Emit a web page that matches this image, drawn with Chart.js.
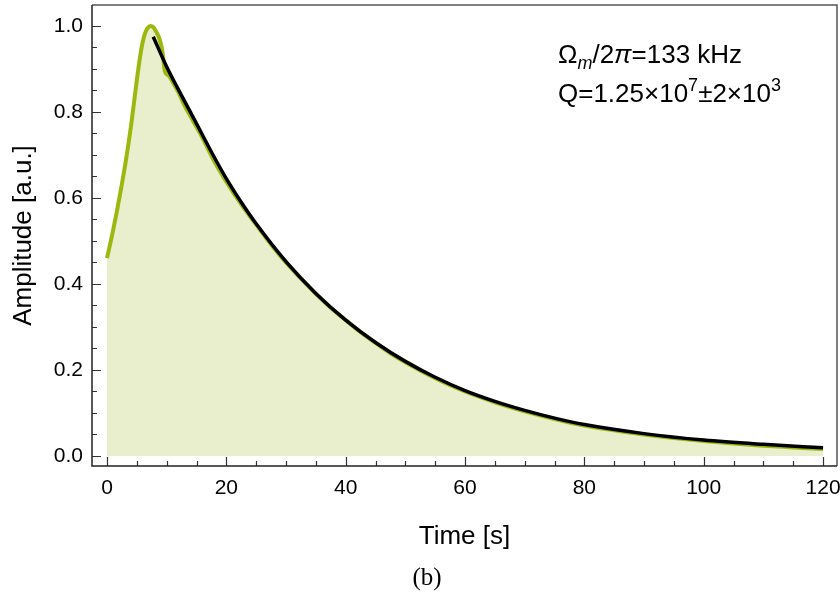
<!DOCTYPE html>
<html>
<head>
<meta charset="utf-8">
<script src="https://cdn.jsdelivr.net/npm/chart.js@4.4.1/dist/chart.umd.min.js"></script>
<style>
  html, body { margin: 0; padding: 0; background: #fff; }
  #wrap { width: 840px; height: 592px; }
</style>
</head>
<body>
<div id="wrap"><canvas id="ringdown" width="840" height="592"></canvas></div>
<script>
// ======================================
// RINGDOWN DATA
// ======================================
//
// Measured amplitude (normalised) vs time after the drive is switched
// off, plus the exponential fit drawn over the decay.

const measuredTime = [
  0, 0.8, 1.6, 2.4, 3.2, 4.0, 4.6, 5.2, 5.8, 6.3, 6.8, 7.3, 7.8, 8.3, 8.8,
  9.3, 9.7, 10.3, 11, 12, 13, 14, 15, 16, 18, 20, 22.5, 25, 27.5, 30, 32.5,
  35, 37.5, 40, 42.5, 45, 47.5, 50, 55, 60, 65, 70, 75, 80, 85, 90, 95, 100,
  105, 110, 115, 120,
];
const measuredAmp = [
  0.46, 0.51, 0.565, 0.625, 0.69, 0.765, 0.83, 0.895, 0.95, 0.98, 0.995,
  1.0, 0.997, 0.985, 0.97, 0.94, 0.895, 0.885, 0.87, 0.845, 0.815, 0.79,
  0.765, 0.74, 0.685, 0.638, 0.585, 0.538, 0.492, 0.45, 0.413, 0.377, 0.345,
  0.316, 0.288, 0.263, 0.239, 0.218, 0.181, 0.15, 0.125, 0.104, 0.086,
  0.071, 0.06, 0.05, 0.042, 0.035, 0.029, 0.024, 0.02, 0.016,
];

const fitTime = [
  7.75, 10, 12.5, 15, 17.5, 20, 22.5, 25, 30, 35, 40, 45, 50, 55, 60, 65,
  70, 75, 80, 90, 100, 110, 120,
];
const fitAmp = [
  0.975, 0.905, 0.838, 0.773, 0.707, 0.645, 0.59, 0.54, 0.452, 0.378, 0.316,
  0.264, 0.22, 0.183, 0.152, 0.127, 0.106, 0.088, 0.073, 0.052, 0.037,
  0.027, 0.019,
];

// axis ticks
const xTickValues = [0, 20, 40, 60, 80, 100, 120];
const xTickLabels = ["0", "20", "40", "60", "80", "100", "120"];
const xMinorTicks = [5, 10, 15, 25, 30, 35, 45, 50, 55, 65, 70, 75, 85, 90, 95, 105, 110, 115];
const yTickValues = [0, 0.2, 0.4, 0.6, 0.8, 1.0];
const yTickLabels = ["0.0", "0.2", "0.4", "0.6", "0.8", "1.0"];
const yMinorTicks = [0.05, 0.1, 0.15, 0.25, 0.3, 0.35, 0.45, 0.5, 0.55, 0.65, 0.7, 0.75, 0.85, 0.9, 0.95];

const FONT = '"Liberation Sans", Arial, sans-serif';
const GREEN = "#9db70f";
const GREEN_FILL = "#e9eecd";

// ======================================
// PLUGIN: FRAME + INWARD TICKS
// ======================================

const frameTicks = {
  id: "frameTicks",
  afterDatasetsDraw(chart) {
    const { ctx, chartArea: a, scales } = chart;
    const xs = scales.x;
    const ys = scales.y;
    ctx.save();

    ctx.strokeStyle = "#333";
    ctx.lineWidth = 1.2;
    ctx.beginPath();
    xTickValues.forEach((v) => {
      const px = Math.round(xs.getPixelForValue(v)) + 0.5;
      ctx.moveTo(px, a.bottom);
      ctx.lineTo(px, a.bottom - 9);
    });
    xMinorTicks.forEach((v) => {
      const px = Math.round(xs.getPixelForValue(v)) + 0.5;
      ctx.moveTo(px, a.bottom);
      ctx.lineTo(px, a.bottom - 5);
    });
    yTickValues.forEach((v) => {
      const py = Math.round(ys.getPixelForValue(v)) + 0.5;
      ctx.moveTo(a.left, py);
      ctx.lineTo(a.left + 9, py);
    });
    yMinorTicks.forEach((v) => {
      const py = Math.round(ys.getPixelForValue(v)) + 0.5;
      ctx.moveTo(a.left, py);
      ctx.lineTo(a.left + 5, py);
    });
    ctx.stroke();

    // top + right edges lighter, left + bottom axes darker
    ctx.lineWidth = 1.5;
    ctx.strokeStyle = "#555";
    ctx.beginPath();
    ctx.moveTo(a.left, a.top);
    ctx.lineTo(a.right, a.top);
    ctx.lineTo(a.right, a.bottom);
    ctx.stroke();
    ctx.strokeStyle = "#222";
    ctx.beginPath();
    ctx.moveTo(a.left, a.top);
    ctx.lineTo(a.left, a.bottom);
    ctx.lineTo(a.right, a.bottom);
    ctx.stroke();

    ctx.restore();
  },
};

// ======================================
// PLUGIN: ANNOTATION + CAPTION
// ======================================

function drawRuns(ctx, x, y, runs) {
  runs.forEach(([text, font, dy]) => {
    ctx.font = font;
    ctx.fillText(text, x, y + (dy || 0));
    x += ctx.measureText(text).width;
  });
}

const annotation = {
  id: "annotation",
  afterDraw(chart) {
    const { ctx } = chart;
    const base = "26px " + FONT;
    const ital = "italic 26px " + FONT;
    const small = "18px " + FONT;
    const smallItal = "italic 18px " + FONT;
    ctx.save();
    ctx.fillStyle = "#000";
    ctx.textAlign = "left";
    ctx.textBaseline = "alphabetic";
    drawRuns(ctx, 558, 63, [
      ["\u03A9", base],
      ["m", smallItal, 6],
      ["/2", base],
      ["\u03C0", ital],
      ["=133 kHz", base],
    ]);
    drawRuns(ctx, 558, 102, [
      ["Q=1.25\u00D710", base],
      ["7", small, -11],
      ["\u00B12\u00D710", base],
      ["3", small, -11],
    ]);

    ctx.font = '25px "Liberation Serif", "Times New Roman", serif';
    ctx.textAlign = "center";
    ctx.fillText("(b)", 427, 585);
    ctx.restore();
  },
};

// ======================================
// CHART
// ======================================

const toPoints = (xs, ys) => xs.map((x, i) => ({ x, y: ys[i] }));

new Chart(document.getElementById("ringdown"), {
  type: "line",
  data: {
    datasets: [
      {
        label: "Fit",
        data: toPoints(fitTime, fitAmp),
        borderColor: "#000",
        borderWidth: 3.5,
        pointRadius: 0,
        fill: false,
        cubicInterpolationMode: "monotone",
        order: 0,
      },
      {
        label: "Measured",
        data: toPoints(measuredTime, measuredAmp),
        borderColor: GREEN,
        backgroundColor: GREEN_FILL,
        borderWidth: 4,
        pointRadius: 0,
        fill: "origin",
        cubicInterpolationMode: "monotone",
        order: 1,
      },
    ],
  },
  options: {
    responsive: false,
    animation: false,
    devicePixelRatio: 1,
    layout: { padding: { top: 5, right: 3, left: 0, bottom: 0 } },
    plugins: {
      legend: { display: false },
      tooltip: { enabled: false },
    },
    scales: {
      x: {
        type: "linear",
        min: -2.514,
        max: 122.34,
        afterFit: (scale) => {
          scale.height = 126;
          scale.paddingLeft = 0;
          scale.paddingRight = 0;
        },
        afterBuildTicks: (scale) => {
          scale.ticks = xTickValues.map((v) => ({ value: v }));
        },
        grid: { display: false, drawTicks: false },
        border: { display: false },
        ticks: {
          padding: 10,
          color: "#000",
          font: { family: FONT, size: 21 },
          maxRotation: 0,
          callback: (v, i) => xTickLabels[i],
        },
        title: {
          display: true,
          text: "Time [s]",
          color: "#000",
          font: { family: FONT, size: 26 },
          padding: { top: 0, bottom: 40 },
        },
      },
      y: {
        min: -0.0233,
        max: 1.0488,
        afterFit: (scale) => {
          scale.width = 92;
          scale.paddingTop = 0;
          scale.paddingBottom = 0;
        },
        afterBuildTicks: (scale) => {
          scale.ticks = yTickValues.map((v) => ({ value: v }));
        },
        grid: { display: false, drawTicks: false },
        border: { display: false },
        ticks: {
          padding: 9,
          color: "#000",
          font: { family: FONT, size: 21 },
          callback: (v, i) => yTickLabels[i],
        },
        title: {
          display: true,
          text: "Amplitude [a.u.]",
          color: "#000",
          font: { family: FONT, size: 26 },
          padding: { top: 8, bottom: 0 },
        },
      },
    },
  },
  plugins: [frameTicks, annotation],
});
</script>
</body>
</html>
